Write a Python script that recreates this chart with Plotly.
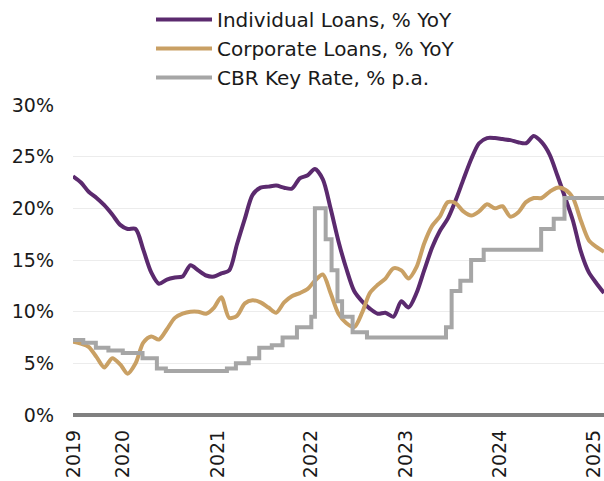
import pandas as pd
import plotly.graph_objects as go

# Month-end observation dates, Jul 2019 - Mar 2025
months = (pd.date_range("2019-07-01", periods=69, freq="MS") + pd.offsets.MonthEnd(0)).strftime("%Y-%m-%d").tolist()

# Individual loans, % YoY
individual = [
    23.1, 22.5, 21.6, 21.0, 20.3, 19.4, 18.4, 18.0, 18.0, 16.0, 13.8, 12.7,
    13.1, 13.3, 13.4, 14.5, 14.0, 13.5, 13.4, 13.7, 14.0, 16.5, 19.0, 21.3,
    22.0, 22.1, 22.2, 22.0, 21.9, 22.9, 23.2, 23.8, 22.8, 20.0, 16.8, 14.2,
    12.0, 11.0, 10.3, 9.8, 9.9, 9.5, 11.0, 10.4, 11.8, 14.0, 16.2, 17.8,
    19.0, 20.8, 22.8, 24.8, 26.3, 26.8, 26.8, 26.7, 26.6, 26.4, 26.3, 27.0,
    26.4, 25.2, 23.2, 21.0, 18.8, 15.8, 13.8, 12.8, 11.8,
]

# Corporate loans, % YoY
corporate = [
    7.1, 6.9, 6.6, 5.6, 4.6, 5.5, 4.9, 4.0, 5.0, 7.0, 7.6, 7.3,
    8.3, 9.4, 9.8, 10.0, 10.0, 9.8, 10.4, 11.4, 9.4, 9.6, 10.8, 11.1,
    10.9, 10.4, 9.9, 10.9, 11.5, 11.8, 12.2, 13.0, 13.6, 11.8, 9.8, 8.9,
    8.5, 9.9, 11.8, 12.6, 13.2, 14.2, 14.0, 13.2, 14.3, 16.6, 18.3, 19.2,
    20.6, 20.5, 19.7, 19.3, 19.7, 20.4, 20.0, 20.2, 19.2, 19.6, 20.6, 21.0,
    21.0, 21.6, 22.0, 21.8, 21.0, 18.8, 16.9, 16.3, 15.8,
]

# CBR key rate decisions (effective date, % p.a.)
rate_dates = [
    "2019-07-31", "2019-09-09", "2019-10-28", "2019-12-16", "2020-02-10",
    "2020-04-27", "2020-06-22", "2020-07-27", "2021-03-22", "2021-04-26",
    "2021-06-15", "2021-07-26", "2021-09-13", "2021-10-25", "2021-12-20",
    "2022-02-14", "2022-02-28", "2022-04-11", "2022-05-04", "2022-05-27",
    "2022-06-14", "2022-07-25", "2022-09-19", "2023-07-24", "2023-08-15",
    "2023-09-18", "2023-10-30", "2023-12-18", "2024-07-29", "2024-09-16",
    "2024-10-28", "2025-03-31",
]
key_rate = [
    7.25, 7.0, 6.5, 6.25, 6.0,
    5.5, 4.5, 4.25, 4.5, 5.0,
    5.5, 6.5, 6.75, 7.5, 8.5,
    9.5, 20.0, 17.0, 14.0, 11.0,
    9.5, 8.0, 7.5, 8.5, 12.0,
    13.0, 15.0, 16.0, 18.0, 19.0,
    21.0, 21.0,
]

# Year labels along the date axis
year_tick_dates = ["2019-08-05", "2020-02-10", "2021-02-14", "2022-02-14",
                   "2023-02-16", "2024-02-18", "2025-02-18"]
year_labels = ["2019", "2020", "2021", "2022", "2023", "2024", "2025"]

PURPLE = "#5b2a6e"
TAN = "#c9a064"
GREY = "#a6a6a6"
FONT = "DejaVu Sans"
TEXT = "#1a1a1a"

fig = go.Figure()
fig.add_trace(go.Scatter(
    x=months, y=individual, name="Individual Loans, % YoY", mode="lines",
    line=dict(color=PURPLE, width=4, shape="spline", smoothing=0.8),
))
fig.add_trace(go.Scatter(
    x=months, y=corporate, name="Corporate Loans, % YoY", mode="lines",
    line=dict(color=TAN, width=4, shape="spline", smoothing=0.8),
))
fig.add_trace(go.Scatter(
    x=rate_dates, y=key_rate, name="CBR Key Rate, % p.a.", mode="lines",
    line=dict(color=GREY, width=4, shape="hv"),
))

fig.update_layout(
    width=604, height=481, autosize=False,
    margin=dict(l=73, r=0, t=105, b=66, autoexpand=False),
    paper_bgcolor="white", plot_bgcolor="white",
    font=dict(family=FONT, size=19, color=TEXT),
    showlegend=True,
    legend=dict(
        xref="container", yref="container", x=0.25, y=1.003,
        xanchor="left", yanchor="top", orientation="v",
        font=dict(family=FONT, size=20, color=TEXT),
        bgcolor="rgba(0,0,0,0)", itemwidth=56, tracegroupgap=0,
    ),
    xaxis=dict(
        type="date", range=["2019-07-31", "2025-03-31"],
        showgrid=False, zeroline=False, showline=False,
        tickmode="array", tickvals=year_tick_dates, ticktext=year_labels,
        tickangle=-90, ticks="", ticklabelstandoff=10,
        tickfont=dict(family=FONT, size=19, color=TEXT),
    ),
    yaxis=dict(
        range=[0, 30], tickmode="linear", tick0=0, dtick=5, ticksuffix="%",
        showgrid=True, gridcolor="#ececec", gridwidth=1,
        zeroline=True, zerolinecolor="#808080", zerolinewidth=4,
        showline=False, ticks="", ticklabelstandoff=18,
        tickfont=dict(family=FONT, size=19, color=TEXT),
    ),
)

fig.write_html("out.html")
